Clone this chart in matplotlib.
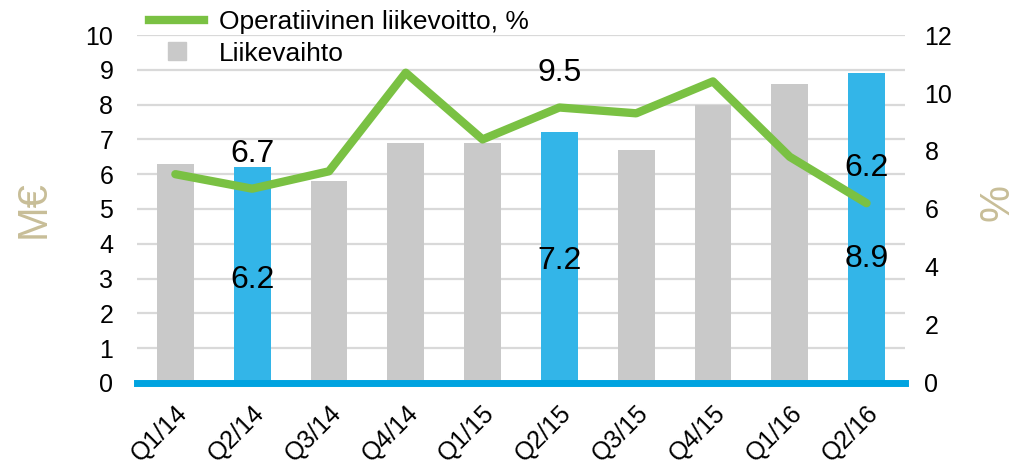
import matplotlib.pyplot as plt
from matplotlib.lines import Line2D
import numpy as np

plt.rcParams['font.family'] = ['Liberation Sans', 'DejaVu Sans']

# data
quarters = ['Q1/14', 'Q2/14', 'Q3/14', 'Q4/14', 'Q1/15',
            'Q2/15', 'Q3/15', 'Q4/15', 'Q1/16', 'Q2/16']
liikevaihto = [6.3, 6.2, 5.8, 6.9, 6.9, 7.2, 6.7, 8.0, 8.6, 8.9]
liikevoitto = [7.2, 6.7, 7.3, 10.7, 8.4, 9.5, 9.3, 10.4, 7.8, 6.2]
highlight = [1, 5, 9]            # Q2 quarters shown in blue
bar_label_y = [2.95, 3.5, 3.55]  # where the bar values sit (M€)

GREY = '#C9C9C9'
BLUE = '#33B5E8'
GREEN = '#7AC143'
TAN = '#C8BE98'

fig = plt.figure(figsize=(10.26, 4.67), dpi=100)
ax = fig.add_axes([0.1335, 0.180, 0.7485, 0.745])
ax2 = ax.twinx()

x = np.arange(len(quarters))
colors = [BLUE if i in highlight else GREY for i in x]
ax.bar(x, liikevaihto, width=0.48, color=colors, zorder=2)

ax.set_xlim(-0.5, len(quarters) - 0.5)
ax.set_ylim(0, 10)
ax.set_yticks(range(0, 11))
ax.grid(True, axis='y', color='#D9D9D9', linewidth=1.6, zorder=0)
ax.set_axisbelow(True)
for s in ['top', 'left', 'right']:
    ax.spines[s].set_visible(False)
ax.spines['bottom'].set_color('#00A3E0')
ax.spines['bottom'].set_linewidth(5)
ax.spines['bottom'].set_zorder(3)
ax.tick_params(axis='y', length=0, labelsize=18, pad=17)
ax.tick_params(axis='x', length=0, labelsize=18, pad=13)
ax.set_xticks(x)
ax.set_xticklabels(quarters, rotation=45, ha='right', va='top',
                   rotation_mode='anchor')
ax.set_ylabel('M€', fontsize=30, color=TAN)
ax.yaxis.set_label_coords(-0.108, 0.5)

# line on secondary axis
ax2.plot(x, liikevoitto, color=GREEN, linewidth=6, solid_capstyle='round',
         zorder=4)
ax2.set_ylim(0, 12)
ax2.set_yticks(range(0, 13, 2))
for s in ax2.spines.values():
    s.set_visible(False)
ax2.tick_params(axis='y', length=0, labelsize=18, pad=14)
ax2.set_ylabel('%', fontsize=30, color=TAN, rotation=90)
ax2.yaxis.set_label_coords(1.095, 0.52)

# value labels
for i, ly in zip(highlight, bar_label_y):
    ax.text(x[i], ly, f'{liikevaihto[i]:.1f}', ha='center', va='center',
            fontsize=23, zorder=5)
    ax2.annotate(f'{liikevoitto[i]:.1f}', (x[i], liikevoitto[i]),
                 xytext=(0, 25), textcoords='offset points',
                 ha='center', va='center', fontsize=23, zorder=5)

# legend
handles = [
    Line2D([], [], color=GREEN, linewidth=6),
    Line2D([], [], color=GREY, marker='s', markersize=13, linestyle='none'),
]
leg = fig.legend(handles, ['Operatiivinen liikevoitto, %', 'Liikevaihto'],
                 loc='upper left', bbox_to_anchor=(0.122, 1.03),
                 frameon=False, fontsize=19, handlelength=2.1,
                 handletextpad=0.55, labelspacing=0.3)

fig.savefig('out.png', dpi=100)
